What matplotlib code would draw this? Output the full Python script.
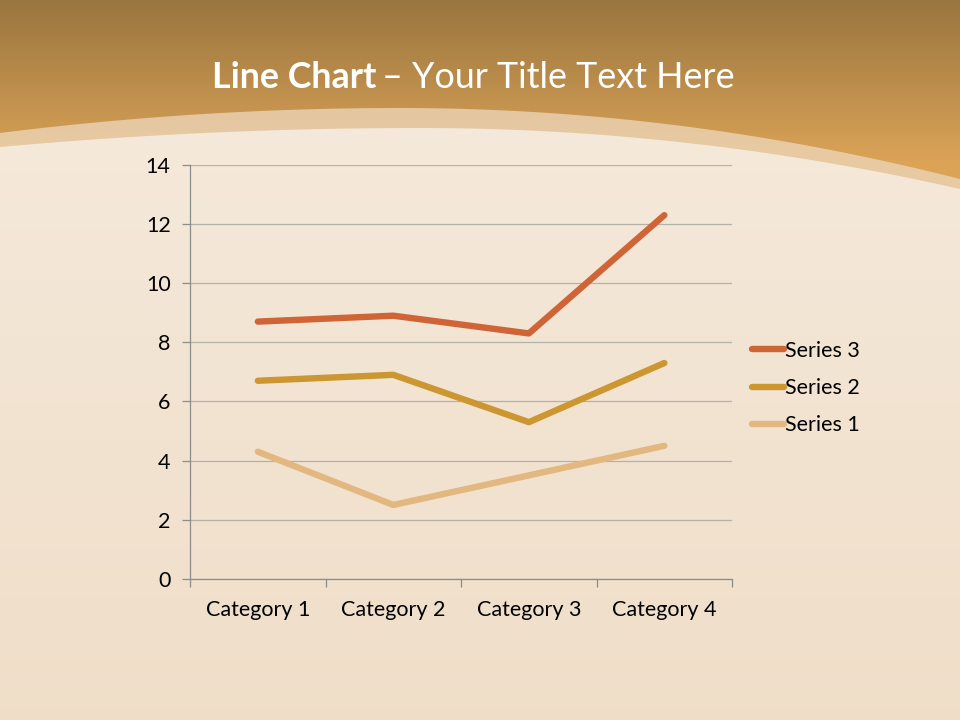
import numpy as np
import matplotlib
matplotlib.use('Agg')
import matplotlib.pyplot as plt
from matplotlib.patches import Polygon

# Chart data (stacked line chart, values per series)
categories = ['Category 1', 'Category 2', 'Category 3', 'Category 4']
series_1 = [4.3, 2.5, 3.5, 4.5]
series_2 = [2.4, 4.4, 1.8, 2.8]
series_3 = [2.0, 2.0, 3.0, 5.0]
y_ticks = [0, 2, 4, 6, 8, 10, 12, 14]

plt.rcParams['font.family'] = ['Lato', 'DejaVu Sans']

fig = plt.figure(figsize=(9.6, 7.2), dpi=100)

# *=*=* Background: orange header, light band and wood panel *=*=*
bg = fig.add_axes([0, 0, 1, 1], zorder=-1)
bg.set_xlim(0, 960)
bg.set_ylim(720, 0)
bg.axis('off')

top = np.array([0.60, 0.46, 0.25])
mid = np.array([0.86, 0.64, 0.34])
grad = np.linspace(0, 1, 200)[:, None]
header = top + (mid - top) * np.clip(grad * 1.6, 0, 1)[..., None]
header = np.repeat(header, 2, axis=1)
bg.imshow(header, extent=[0, 960, 260, 0], aspect='auto', zorder=0)
bg.axhspan(260, 720, color=mid, zorder=0)


def arc(x, x0, y0, yl, yr):
    al = (yl - y0) / x0 ** 2
    ar = (yr - y0) / (960 - x0) ** 2
    return np.where(x < x0, y0 + al * (x - x0) ** 2, y0 + ar * (x - x0) ** 2)


xs = np.linspace(0, 960, 400)
outer = arc(xs, 400, 108, 133, 179)
inner = arc(xs, 420, 128, 147, 189)
band = Polygon(np.column_stack([np.r_[xs, 960, 0], np.r_[outer, 720, 720]]),
               closed=True, facecolor='#ecd4b6', edgecolor='none', alpha=0.8, zorder=1)
bg.add_patch(band)
wood = Polygon(np.column_stack([np.r_[xs, 960, 0], np.r_[inner, 720, 720]]),
               closed=True, facecolor='none', edgecolor='none', zorder=2)
bg.add_patch(wood)
wgrad = np.linspace(0, 1, 100)[:, None]
wtop = np.array([0.960, 0.915, 0.860])
wbot = np.array([0.940, 0.870, 0.785])
wimg = wtop + (wbot - wtop) * wgrad[..., None]
wimg = np.repeat(wimg, 2, axis=1)
im = bg.imshow(wimg, extent=[0, 960, 720, 100], aspect='auto', zorder=2)
im.set_clip_path(wood)

t1 = fig.text(0.221, 0.893, 'Line Chart', color='white', fontsize=25.8,
              fontweight='bold', va='center', ha='left')
fig.canvas.draw()
bb = t1.get_window_extent()
fig.text(bb.x1 / 960 + 0.006, 0.893, '\u2013 Your Title Text Here', color='white',
         fontsize=25.8, va='center', ha='left')

# *=*=* Chart *=*=*
ax = fig.add_axes([0.198, 0.196, 0.5646, 0.575])
ax.set_facecolor('none')
x = np.arange(1, len(categories) + 1)
s1 = np.array(series_1)
s2 = s1 + np.array(series_2)
s3 = s2 + np.array(series_3)
lw = 4.6
ax.plot(x, s1, color='#e2b880', lw=lw, solid_capstyle='round', label='Series 1', zorder=3)
ax.plot(x, s2, color='#cc9630', lw=lw, solid_capstyle='round', label='Series 2', zorder=3)
ax.plot(x, s3, color='#cf6437', lw=lw, solid_capstyle='round', label='Series 3', zorder=3)

ax.set_xlim(0.5, len(categories) + 0.5)
ax.set_ylim(0, 14)
ax.set_yticks(y_ticks)
ax.set_yticklabels([str(v) for v in y_ticks], fontsize=15.5)
ax.set_xticks(x)
ax.set_xticklabels(categories, fontsize=15.5)
ax.set_xticks(np.arange(0.5, len(categories) + 1), minor=True)
ax.tick_params(axis='x', which='major', length=0, pad=15)
ax.tick_params(axis='x', which='minor', length=6, color='#8c8c8c', width=0.9)
ax.tick_params(axis='y', length=6, color='#8c8c8c', width=0.9, pad=8)
ax.grid(axis='y', color='#b4b0aa', lw=0.9)
ax.set_axisbelow(True)
for side in ['top', 'right']:
    ax.spines[side].set_visible(False)
for side in ['left', 'bottom']:
    ax.spines[side].set_color('#8c8c8c')
    ax.spines[side].set_linewidth(0.9)

handles, labels = ax.get_legend_handles_labels()
leg = fig.legend(handles[::-1], labels[::-1], loc='center left',
                 bbox_to_anchor=(0.7635, 0.461), frameon=False, fontsize=15.5,
                 handlelength=1.45, handletextpad=0.05, labelspacing=0.8)

fig.savefig('out.png', dpi=100)
